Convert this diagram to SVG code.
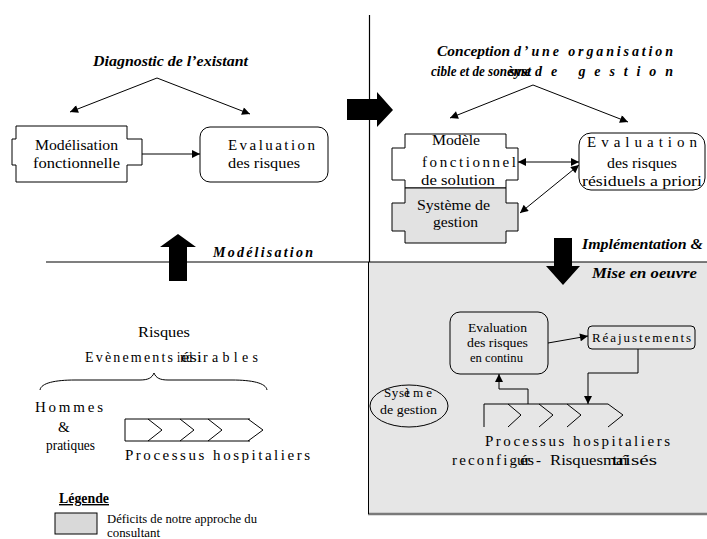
<svg xmlns="http://www.w3.org/2000/svg" width="707" height="539" viewBox="0 0 707 539">
<style>
text{font-family:"Liberation Serif","Times New Roman","DejaVu Serif",serif}
.t{font-size:15px;fill:#000}
.s{font-size:13px}
.h{font-size:14px;font-weight:bold;font-style:italic;fill:#000}
.ln{fill:none;stroke:#000;stroke-width:1}
.bx{fill:#fff;stroke:#000;stroke-width:1}
.gr{fill:#e2e2e2;stroke:#000;stroke-width:1}
.blk{fill:#000;stroke:none}
</style>
<defs>
<marker id="ah" viewBox="0 0 10 10" refX="10" refY="5" markerWidth="10" markerHeight="8" markerUnits="userSpaceOnUse" orient="auto-start-reverse">
<path d="M0,0 L10,5 L0,10 z" fill="#000"/>
</marker>
</defs>
<rect width="707" height="539" fill="#fff"/>

<g id="frame">
<rect x="368" y="262" width="345" height="252" fill="#e6e6e6"/>
<line x1="368" y1="514" x2="707" y2="514" stroke="#7a7a7a" stroke-width="2.5"/>
<line x1="368.5" y1="262" x2="368.5" y2="514" stroke="#000" stroke-width="1"/>
<line x1="369.5" y1="15" x2="369.5" y2="262" stroke="#000" stroke-width="1.2"/>
<line x1="46" y1="262" x2="707" y2="262" stroke="#000" stroke-width="1.2"/>
</g>

<g id="big-arrows">
<polygon class="blk" points="178,234 196,247 187,247 187,281 169,281 169,247 160,247"/>
<polygon class="blk" points="347,99 377,99 377,92 393,110 377,127 377,120 347,120"/>
<polygon class="blk" points="554,238 572,238 572,266 580,266 563,285 546,266 554,266"/>
</g>

<g id="headings">
<text class="h" x="93" y="66" textLength="155" lengthAdjust="spacingAndGlyphs">Diagnostic de l’existant</text>
<text class="h" x="437" y="56" textLength="73" lengthAdjust="spacingAndGlyphs">Conception</text>
<text class="h" x="514" y="56" textLength="159" lengthAdjust="spacing">d’une organisation</text>
<text class="h" x="431" y="76" textLength="76" lengthAdjust="spacingAndGlyphs">cible et de son</text>
<text class="h" x="509" y="76" textLength="22" lengthAdjust="spacingAndGlyphs">syst</text>
<text class="h" x="507" y="76" textLength="24" lengthAdjust="spacingAndGlyphs">ème</text>
<text class="h" x="535" y="76" textLength="138" lengthAdjust="spacing">de gestion</text>
<text class="h" x="213" y="257" textLength="100" lengthAdjust="spacing">Modélisation</text>
<text class="h" x="582" y="249" textLength="121" lengthAdjust="spacingAndGlyphs">Implémentation &amp;</text>
<text class="h" x="592" y="278" textLength="105" lengthAdjust="spacingAndGlyphs">Mise en oeuvre</text>
</g>

<g id="connectors">
<line class="ln" x1="157" y1="78" x2="70" y2="112" marker-end="url(#ah)"/>
<line class="ln" x1="157" y1="78" x2="250" y2="114" marker-end="url(#ah)"/>
<line class="ln" x1="142" y1="154" x2="200" y2="154" marker-end="url(#ah)"/>
<line class="ln" x1="533" y1="85" x2="450" y2="118" marker-end="url(#ah)"/>
<line class="ln" x1="533" y1="85" x2="628" y2="122" marker-end="url(#ah)"/>
<line class="ln" x1="518" y1="162" x2="579" y2="162" marker-start="url(#ah)" marker-end="url(#ah)"/>
<line class="ln" x1="520" y1="213" x2="579" y2="165" marker-start="url(#ah)" marker-end="url(#ah)"/>
<line class="ln" x1="548" y1="343" x2="588" y2="336" marker-end="url(#ah)"/>
<polyline class="ln" points="638,349 638,373 588,373 588,404" marker-end="url(#ah)"/>
<polyline class="ln" points="528,404 528,389 499,389 499,374" marker-end="url(#ah)"/>
</g>

<g id="n-modelisation">
<polygon class="bx" points="16,126 127,126 127,139 142,139 142,165 127,165 127,182 16,182 16,165 12,165 12,139 16,139"/>
<text class="t" x="35" y="150" textLength="83" lengthAdjust="spacingAndGlyphs">Modélisation</text>
<text class="t" x="33" y="168" textLength="87" lengthAdjust="spacingAndGlyphs">fonctionnelle</text>
</g>

<g id="n-evaluation">
<rect class="bx" x="200" y="127" width="128" height="55" rx="10"/>
<text class="t" x="228" y="150" textLength="87" lengthAdjust="spacing">Evaluation</text>
<text class="t" x="228" y="168" textLength="72" lengthAdjust="spacingAndGlyphs">des risques</text>
</g>

<g id="n-modele">
<polygon class="bx" points="405,134 506,134 506,148 518,148 518,180 506,180 506,188 405,188 405,180 392,180 392,148 405,148"/>
<text class="t" x="432" y="145" textLength="48" lengthAdjust="spacingAndGlyphs">Modèle</text>
<text class="t" x="422" y="167" textLength="94" lengthAdjust="spacing">fonctionnel</text>
<text class="t" x="421" y="185" textLength="74" lengthAdjust="spacingAndGlyphs">de solution</text>
</g>

<g id="n-systeme">
<polygon class="gr" points="405,188 506,188 506,203 518,203 518,231 506,231 506,243 405,243 405,231 392,231 392,203 405,203"/>
<text class="t" x="417" y="210" textLength="73" lengthAdjust="spacingAndGlyphs">Système de</text>
<text class="t" x="433" y="227" textLength="45" lengthAdjust="spacingAndGlyphs">gestion</text>
</g>

<g id="n-residuels">
<rect class="bx" x="579" y="133" width="126" height="57" rx="12"/>
<text class="t" x="587" y="147" textLength="110" lengthAdjust="spacing">Evaluation</text>
<text class="t" x="607" y="168" textLength="70" lengthAdjust="spacingAndGlyphs">des risques</text>
<text class="t" x="582" y="186" textLength="120" lengthAdjust="spacingAndGlyphs">résiduels a priori</text>
</g>

<g id="n-continu">
<rect class="ln" x="450" y="312" width="98" height="62" rx="10"/>
<text class="t s" x="468" y="332" textLength="59" lengthAdjust="spacingAndGlyphs">Evaluation</text>
<text class="t s" x="467" y="347" textLength="61" lengthAdjust="spacingAndGlyphs">des risques</text>
<text class="t s" x="470" y="362" textLength="53" lengthAdjust="spacingAndGlyphs">en continu</text>
</g>

<g id="n-reajustements">
<rect class="ln" x="588" y="326" width="107" height="23" rx="4"/>
<text class="t s" x="592" y="342" textLength="99" lengthAdjust="spacing">Réajustements</text>
</g>

<g id="n-systeme-gestion">
<ellipse class="ln" cx="409" cy="406" rx="39" ry="21"/>
<text class="t s" x="384" y="397" textLength="20" lengthAdjust="spacing">Sys</text>
<text class="t s" x="406" y="397">t</text>
<text class="t s" x="404" y="397" textLength="28" lengthAdjust="spacing">ème</text>
<text class="t s" x="380" y="414" textLength="57" lengthAdjust="spacingAndGlyphs">de gestion</text>
</g>

<g id="n-processus-reconf">
<path class="ln" d="M484,427 V404 H608 M508,404 L521,415 L508,427 M539,404 L553,415 L539,427 M567,404 L581,415 L567,427 M608,404 L623,415 L608,427"/>
<text class="t" x="485" y="446" textLength="185" lengthAdjust="spacing">Processus hospitaliers</text>
<text class="t" x="452" y="465" textLength="65" lengthAdjust="spacing">reconfig</text>
<text class="t" x="517" y="465" textLength="13" lengthAdjust="spacingAndGlyphs">ur</text>
<text class="t" x="520" y="465" textLength="14" lengthAdjust="spacingAndGlyphs">és</text>
<text class="t" x="536" y="465">-</text>
<text class="t" x="550" y="465" textLength="53" lengthAdjust="spacingAndGlyphs">Risques</text>
<text class="t" x="603" y="465" textLength="25" lengthAdjust="spacingAndGlyphs">maî</text>
<text class="t" x="612" y="465" textLength="45" lengthAdjust="spacingAndGlyphs">trisés</text>
</g>

<g id="n-risques">
<text class="t" x="138" y="337" textLength="52" lengthAdjust="spacingAndGlyphs">Risques</text>
<text class="t" x="85" y="362" style="font-size:14px" textLength="88" lengthAdjust="spacing">Evènements</text>
<text class="t" x="177" y="362" style="font-size:14px" textLength="15" lengthAdjust="spacingAndGlyphs">ind</text>
<text class="t" x="181" y="362" style="font-size:14px" textLength="21" lengthAdjust="spacingAndGlyphs">ési</text>
<text class="t" x="203" y="362" style="font-size:14px" textLength="55" lengthAdjust="spacing">rables</text>
<path class="ln" d="M40,390 C41,383 55,380 75,380 L140,380 C148,380 152,378 154,373 C156,378 160,380 168,380 L232,380 C252,380 266,383 267,390"/>
</g>

<g id="n-hommes">
<text class="t" x="35" y="412" textLength="68" lengthAdjust="spacing">Hommes</text>
<text class="t" x="58" y="432">&amp;</text>
<text class="t" x="46" y="450" textLength="49" lengthAdjust="spacingAndGlyphs">pratiques</text>
</g>

<g id="n-processus">
<path class="ln" d="M125,419 V441 M125,419 H250 M125,441 H250 M148,419 L162,430 L148,441 M180,419 L194,430 L180,441 M208,419 L222,430 L208,441 M248,419 L263,430 L248,441"/>
<text class="t" x="125" y="460" textLength="185" lengthAdjust="spacing">Processus hospitaliers</text>
</g>

<g id="legend">
<text x="59" y="503" font-size="14" font-weight="bold" text-decoration="underline" textLength="50" lengthAdjust="spacingAndGlyphs">Légende</text>
<rect x="55" y="513" width="42" height="21" fill="#d9d9d9" stroke="#000" stroke-width="1"/>
<text class="t" x="107" y="523" style="font-size:12px" textLength="150" lengthAdjust="spacingAndGlyphs">Déficits de notre approche du</text>
<text class="t" x="107" y="537" style="font-size:12px" textLength="53" lengthAdjust="spacingAndGlyphs">consultant</text>
</g>
</svg>
